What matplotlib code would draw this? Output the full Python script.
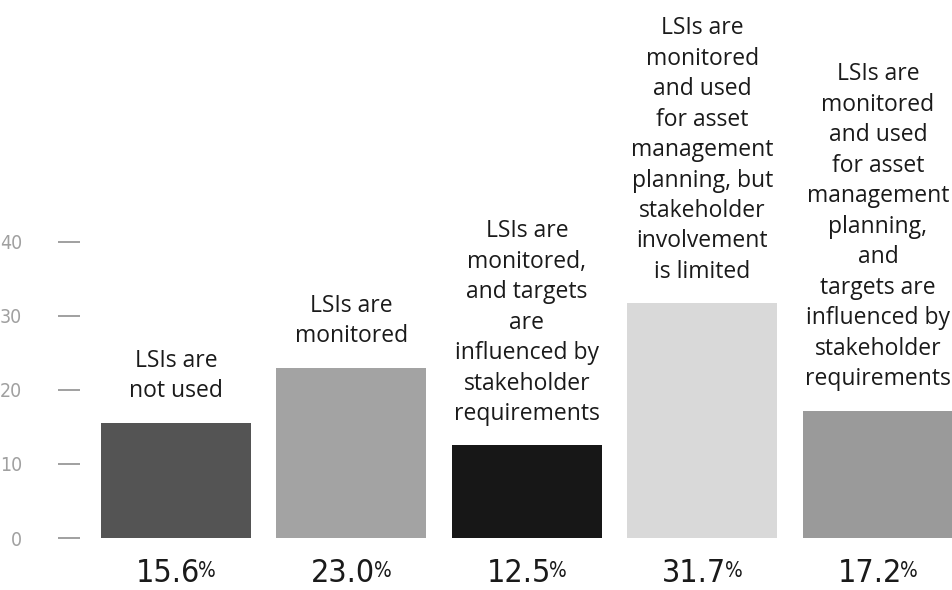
"""Bar chart of how LSIs are used, shares in percent, redrawn from a scanned figure."""

import matplotlib
matplotlib.use("Agg")
import matplotlib.pyplot as plt

categories = [
    "LSIs are\nnot used",
    "LSIs are\nmonitored",
    "LSIs are\nmonitored,\nand targets\nare\ninfluenced by\nstakeholder\nrequirements",
    "LSIs are\nmonitored\nand used\nfor asset\nmanagement\nplanning, but\nstakeholder\ninvolvement\nis limited",
    "LSIs are\nmonitored\nand used\nfor asset\nmanagement\nplanning,\nand\ntargets are\ninfluenced by\nstakeholder\nrequirements",
]
shares = [15.6, 23.0, 12.5, 31.7, 17.2]
y_ticks = [0, 10, 20, 30, 40]
bar_colors = ["#545454", "#a3a3a3", "#171717", "#d9d9d9", "#9a9a9a"]

LABEL_FONT = ["Open Sans", "DejaVu Sans"]
NARROW = dict(family="DejaVu Sans", fontstretch="condensed")


def plot_chart(path="out.png"):
    fig = plt.figure(figsize=(9.52, 5.9), dpi=100)
    ax = fig.add_axes([58 / 952, 52 / 590, 1 - 58 / 952, 538 / 590])

    x = list(range(len(shares)))
    ax.bar(x, shares, width=0.855, color=bar_colors, edgecolor="none")

    ax.set_xlim(-0.672, 4.422)
    ax.set_ylim(0, 72.7)
    ax.set_xticks([])
    ax.set_yticks(y_ticks)
    ax.set_yticklabels([str(t) for t in y_ticks], fontsize=14, color="#a0a0a0", **NARROW)
    ax.tick_params(axis="y", direction="in", length=15.5, width=1.3,
                   color="#999999", pad=26)
    for side in ax.spines.values():
        side.set_visible(False)

    for xi, val, label in zip(x, shares, categories):
        ax.annotate(label, xy=(xi, val), xytext=(0, 14), textcoords="offset points",
                    ha="center", va="bottom", family=LABEL_FONT, fontsize=16.5,
                    linespacing=1.36, color="#1a1a1a", annotation_clip=False)
        num = ax.annotate(f"{val:.1f}", xy=(xi, 0), xytext=(-6, -31.5),
                          textcoords="offset points", ha="center", va="baseline",
                          fontsize=23, color="#1a1a1a", annotation_clip=False,
                          **NARROW)
        ax.annotate("%", xy=(1, 1), xycoords=num, xytext=(-1, -2.5),
                    textcoords="offset points", ha="left", va="top",
                    fontsize=15, color="#1a1a1a", annotation_clip=False, **NARROW)

    fig.savefig(path, dpi=100)
    plt.close(fig)


if __name__ == "__main__":
    plot_chart()
